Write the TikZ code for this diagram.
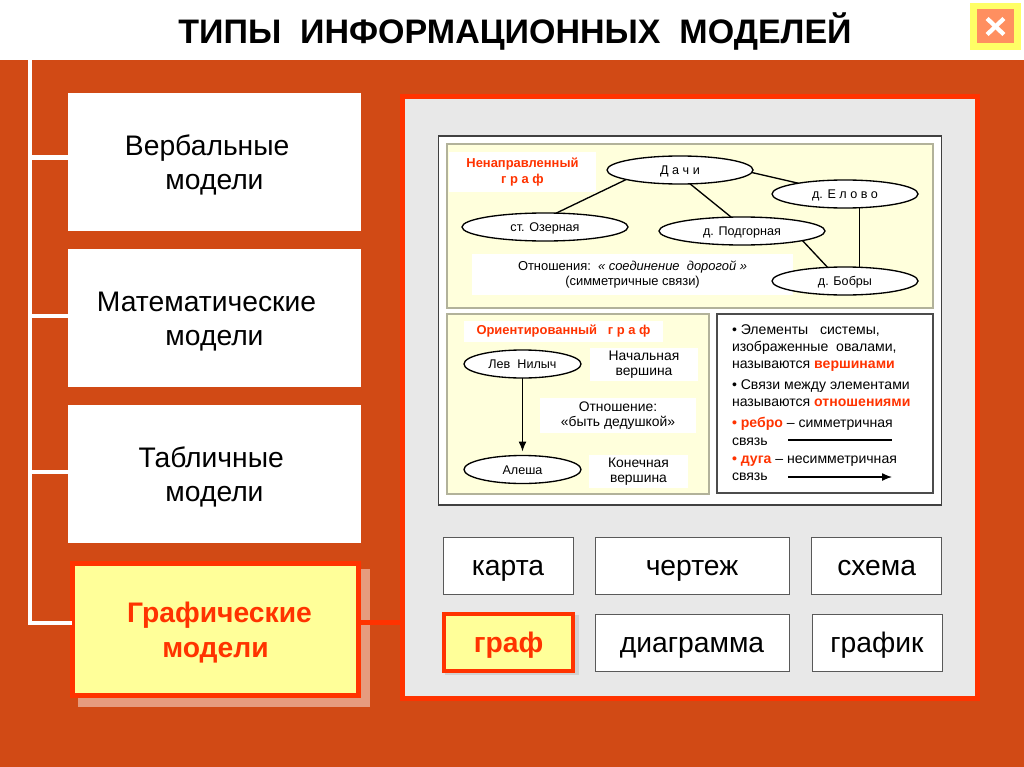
\documentclass[tikz,border=0pt]{standalone}
\usepackage{fontspec}
\setmainfont{Liberation Sans}
\usepackage{xcolor}
\usetikzlibrary{arrows.meta,positioning,shapes.geometric}
\definecolor{slidebg}{HTML}{D14A15}
\definecolor{hotred}{HTML}{FF3300}
\definecolor{panelgray}{HTML}{E8E8E8}
\definecolor{paleyellow}{HTML}{FFFFDC}
\definecolor{selyellow}{HTML}{FFFF99}
\definecolor{closeyellow}{HTML}{FFFF66}
\definecolor{closeorange}{HTML}{FF8F60}
\tikzset{
  modelbox/.style={fill=white, align=center, minimum width=219.75pt,
    minimum height=103.5pt, inner sep=0pt, outer sep=0pt,
    font=\fontsize{21.2}{26}\selectfont},
  modelsel/.style={modelbox, draw=hotred, line width=3.75pt, fill=selyellow,
    minimum width=215pt, minimum height=99pt, text=hotred,
    font=\fontsize{21.2}{26}\selectfont\bfseries},
  kindbox/.style={draw=black!65, line width=.75pt, fill=white, minimum height=42.75pt,
    text height=15.5pt, text depth=0pt, inner sep=0pt, outer sep=0pt,
    font=\fontsize{21.2}{26}\selectfont},
  kindsel/.style={kindbox, draw=hotred, line width=3pt, fill=selyellow,
    text=hotred, font=\fontsize{21.2}{26}\selectfont\bfseries},
  graphnode/.style={ellipse, draw=black, line width=1pt, fill=white,
    minimum width=109.5pt, minimum height=21pt, inner sep=0pt, outer sep=0pt,
    text height=6.8pt, text depth=0pt, font=\fontsize{9.45}{11}\selectfont},
  graphnote/.style={fill=white, align=center, inner sep=0pt, outer sep=0pt,
    font=\fontsize{9.7}{11.8}\selectfont},
  vertexnote/.style={graphnote, font=\fontsize{10.4}{11.3}\selectfont},
  graphedge/.style={draw=black, line width=1pt},
  grapharrow/.style={graphedge, -{Latex[length=7.5pt,width=6pt]}},
  itemtext/.style={align=left, inner sep=0pt, outer sep=0pt, anchor=north west,
    font=\fontsize{10.55}{13}\selectfont},
  trunkline/.style={draw=white, line width=3.3pt},
}
\newcommand{\redword}[1]{{\color{hotred}\bfseries #1}}
\newcommand{\modelstrut}{\rule{0pt}{20pt}}
\begin{document}
\begin{tikzpicture}[x=.75pt, y=-.75pt]
  \useasboundingbox (0,0) rectangle (1024,767);
  \fill[white] (0,0) rectangle (1024,60);
  \fill[slidebg] (0,60) rectangle (1024,767);

  \node[font=\fontsize{25.5}{30}\selectfont\bfseries] (title) at (515,31)
    {ТИПЫ~~ИНФОРМАЦИОННЫХ~~МОДЕЛЕЙ};
  \node[fill=closeyellow, minimum width=38.25pt, minimum height=35.25pt,
    inner sep=0pt] (closeouter) at (995.5,26.5) {};
  \node[fill=closeorange, minimum width=27.75pt, minimum height=25.5pt,
    inner sep=0pt] (closeinner) at (995.5,26.5) {};
  \draw[white, line width=3.2pt] ([shift={(-6.3pt,-6pt)}]closeinner.center)
    -- ([shift={(6.3pt,6pt)}]closeinner.center);
  \draw[white, line width=3.2pt] ([shift={(-6.3pt,6pt)}]closeinner.center)
    -- ([shift={(6.3pt,-6pt)}]closeinner.center);

  % left column
  \node[modelbox] (verbal) at (214.5,162) {\modelstrut Вербальные\kern11pt\\модели};
  \node[modelbox, below=13.5pt of verbal] (math) {\modelstrut Математические\kern12pt\\модели};
  \node[modelbox, below=13.5pt of math] (table) {\modelstrut Табличные\kern5pt\\модели};
  \node[fill=white!45!slidebg, minimum width=219pt, minimum height=103pt,
    inner sep=0pt] (graphshadow) at (224,638) {};
  \node[modelsel] (graphic) at (215.5,629.5) {\modelstrut\kern6ptГрафические\\модели};

  \coordinate (trunktop) at (30,60);
  \draw[trunkline] (trunktop) |- ([yshift=3.5pt]verbal.west);
  \draw[trunkline] (trunktop) |- ([yshift=1.5pt]math.west);
  \draw[trunkline] (trunktop) |- ([yshift=1.5pt]table.west);
  \draw[trunkline] (trunktop) |- ([yshift=5pt]graphic.west);

  % right panel
  \node[draw=hotred, line width=3.75pt, fill=panelgray, minimum width=431pt,
    minimum height=452pt, inner sep=0pt] (panel) at (690,397.5) {};
  \coordinate (graphjoin) at ([yshift=5pt]graphic.east);
  \draw[draw=hotred, line width=3.75pt] (graphjoin) -- (graphjoin -| panel.west);

  \node[draw=black!75, line width=1pt, fill=white, minimum width=377pt,
    minimum height=276.75pt, inner sep=0pt] (sheet) at (690,320.5) {};
  \node[draw=black!30!paleyellow, line width=1pt, fill=paleyellow, minimum width=364.5pt,
    minimum height=123pt, inner sep=0pt] (undirbg) at (690,226) {};
  \node[draw=black!30!paleyellow, line width=1pt, fill=paleyellow, minimum width=196.5pt,
    minimum height=135pt, inner sep=0pt] (dirbg) at (578,404) {};
  \node[draw=black!70, line width=.9pt, fill=white, minimum width=162pt,
    minimum height=134.25pt, inner sep=0pt] (legendbg) at (825,403.5) {};

  % undirected graph
  \node[graphnote, minimum width=110pt, minimum height=30pt, text=hotred,
    font=\fontsize{9.7}{11.5}\selectfont\bfseries] (undirtitle) at (522.5,172)
    {Ненаправленный\\г р а ф};
  \node[graphnode] (dachi) at (680,170) {Д а ч и};
  \node[graphnode] (elovo) at (845,194) {д. Е л о в о};
  \node[graphnode, minimum width=124.5pt] (ozernaya) at (545,227) {ст. Озерная};
  \node[graphnode, minimum width=124.5pt] (podgornaya) at (742,231) {д. Подгорная};
  \node[graphnote, minimum width=240.75pt, minimum height=30.75pt] (relnote) at (632.5,274.5)
    {Отношения:~~\textit{« соединение~~дорогой »}\\(симметричные связи)};
  \node[graphnode] (bobry) at (845,281) {д. Бобры};
  \draw[graphedge] (dachi.190.7) -- (ozernaya.51);
  \draw[graphedge] (dachi.306) -- (podgornaya.128);
  \draw[graphedge] (dachi.358) -- (elovo.167);
  \draw[graphedge] (podgornaya.351) -- (bobry.142);
  \draw[graphedge] (elovo.317.6) -- (elovo.317.6 |- bobry.42.4);

  % directed graph
  \node[graphnote, minimum width=149pt, minimum height=15.75pt, text=hotred,
    font=\fontsize{9.7}{11.5}\selectfont\bfseries] (dirtitle) at (563.5,331.5)
    {Ориентированный~~~г р а ф};
  \node[graphnode, minimum width=87.75pt] (lev) at (522.5,364) {Лев~~Нилыч};
  \node[graphnode, minimum width=87.75pt] (alesha) at (522.5,469.5) {Алеша};
  \draw[grapharrow, shorten >=3pt] (lev) -- (alesha);
  \node[vertexnote, minimum width=81pt, minimum height=24.75pt] (startnote) at (644,364.5)
    {Начальная\\вершина};
  \node[vertexnote, minimum width=117pt, minimum height=26.25pt] (relshort) at (618,415.5)
    {Отношение:\\«быть дедушкой»};
  \node[vertexnote, minimum width=74.25pt, minimum height=24.75pt] (endnote) at (638.5,471.5)
    {Конечная\\вершина};

  % legend text
  \node[itemtext] (itemone) at (732,324.5)
    {• Элементы~~~системы,\\изображенные~~овалами,\\называются \redword{вершинами}};
  \node[itemtext] (itemtwo) at (732,379.5)
    {• Связи между элементами\\называются \redword{отношениями}};
  \node[itemtext] (itemthree) at (732,417.5)
    {\redword{• ребро} – симметричная\\связь};
  \node[itemtext] (itemfour) at (732,456)
    {\redword{• дуга} – несимметричная\\связь};
  \coordinate (edgefrom) at (788,440);
  \coordinate (edgeto) at (892,440);
  \coordinate (arcfrom) at (788,477);
  \coordinate (arcto) at (892,477);
  \draw[graphedge] (edgefrom) -- (edgeto);
  \draw[grapharrow] (arcfrom) -- (arcto);

  % kinds of graphic models
  \node[kindbox, minimum width=97.5pt] (map) at (508,565.5) {карта};
  \node[kindbox, minimum width=145.5pt, right=16.5pt of map] (drawing) {чертеж};
  \node[kindbox, minimum width=97.5pt, right=17pt of drawing] (scheme) {схема};
  \node[fill=black!10!panelgray, minimum width=100pt, minimum height=45pt,
    inner sep=0pt] (grafshadow) at (512,645) {};
  \node[kindsel, minimum width=97pt, minimum height=43pt] (graf) at (508.5,642.5) {граф};
  \node[kindbox, minimum width=145.5pt] (diagram) at (692,642.5) {диаграмма};
  \node[kindbox, minimum width=97.5pt] (chart) at (877,642.5) {график};
\end{tikzpicture}
\end{document}
